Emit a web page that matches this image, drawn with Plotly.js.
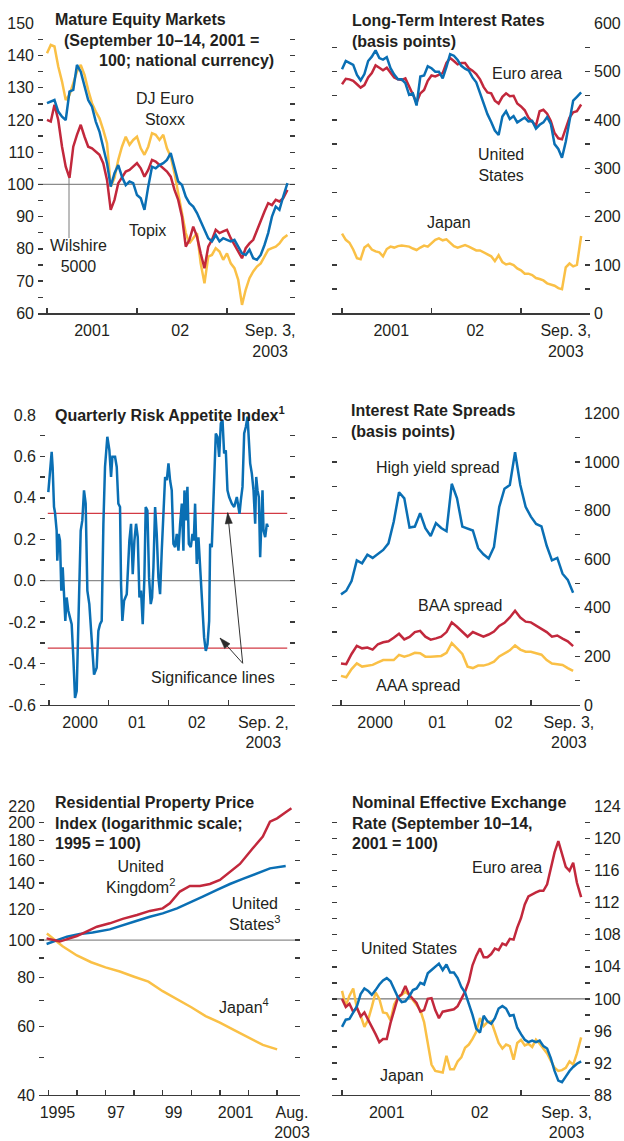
<!DOCTYPE html>
<html><head><meta charset="utf-8">
<script src="https://cdn.plot.ly/plotly-3.0.1.min.js"></script>
<style>html,body{margin:0;padding:0;background:#fff}#chart{width:624px;height:1141px}</style>
</head><body><div id="chart"></div>
<script>
// ---------- DATA ----------
// semi-monthly dates (decimal years), Jan 2001 - Sep 3, 2003
const semiMonthly = [2001.000,2001.042,2001.083,2001.125,2001.167,2001.208,2001.250,2001.292,2001.333,2001.375,2001.417,2001.458,2001.500,2001.542,2001.583,2001.625,2001.667,2001.708,2001.750,2001.792,2001.833,2001.875,2001.917,2001.958,
2002.000,2002.042,2002.083,2002.125,2002.167,2002.208,2002.250,2002.292,2002.333,2002.375,2002.417,2002.458,2002.500,2002.542,2002.583,2002.625,2002.667,2002.708,2002.750,2002.792,2002.833,2002.875,2002.917,2002.958,
2003.000,2003.042,2003.083,2003.125,2003.167,2003.208,2003.250,2003.292,2003.333,2003.375,2003.417,2003.458,2003.500,2003.542,2003.583,2003.625,2003.672];

// Panel 1: Mature equity markets (Sep 10-14, 2001 = 100)
const equityDJEuroStoxx = [140.7,143.3,142.8,136.6,131.9,126.2,127.8,131.4,135.0,137.1,134.0,129.3,125.2,122.6,120.5,116.9,112.8,99.3,102.0,107.6,111.7,114.8,112.3,113.8,114.8,111.2,109.2,111.7,115.9,115.4,113.8,115.4,111.2,108.6,103.5,97.3,91.1,84.9,81.7,83.3,84.9,75.5,69.3,77.6,78.1,80.2,79.2,76.6,78.6,75.5,74.0,70.4,62.6,67.3,70.9,73.0,74.5,75.5,77.6,79.7,80.2,80.7,81.7,83.3,84.3];
const equityWilshire = [120.0,119.5,124.7,120.0,111.7,105.5,102.0,111.7,115.4,118.5,114.8,111.7,111.2,110.2,109.2,106.6,101.4,92.1,95.2,100.4,102.4,104.0,104.5,105.5,106.6,105.0,102.4,104.5,107.6,107.1,106.0,105.0,104.0,102.4,98.3,95.2,90.0,80.7,82.8,86.9,83.8,78.6,74.0,80.7,82.8,85.9,84.9,85.4,85.9,83.3,81.2,79.2,77.1,80.2,81.7,82.8,85.9,89.0,91.6,94.2,93.6,95.2,94.7,95.7,98.3];
const equityTopix = [125.2,125.7,126.2,122.6,121.0,120.0,128.8,129.3,137.1,135.0,130.4,126.2,124.1,119.5,116.4,111.7,106.6,99.3,103.5,106.0,102.4,99.8,100.9,100.4,96.7,95.7,92.1,99.3,105.5,105.0,106.0,106.6,107.6,109.7,105.5,100.9,99.8,96.2,94.2,93.1,91.1,88.5,85.4,83.3,82.3,84.3,82.3,83.3,82.8,82.3,82.8,80.7,78.6,78.1,79.7,77.1,76.6,78.1,81.2,84.9,90.0,93.1,92.1,96.2,100.4];

// Panel 2: Long-term interest rates (basis points)
const ratesUS = [505,522,518,514,493,482,495,522,531,544,528,525,530,507,494,484,484,476,452,455,430,490,492,511,507,500,500,486,510,536,533,524,512,506,502,488,478,455,431,412,396,378,369,407,418,402,408,395,400,405,397,398,382,390,395,406,392,350,340,322,355,400,440,448,457];
const ratesEuro = [474,485,484,481,474,467,472,488,497,513,508,503,508,498,488,484,483,486,468,450,436,455,462,481,492,490,493,497,518,528,522,515,518,518,507,502,495,484,468,457,455,440,434,448,455,449,450,434,428,420,405,397,388,418,421,413,398,373,362,360,384,405,416,418,432];
const ratesJapan = [165,152,146,132,114,112,136,142,132,128,126,118,133,138,136,139,140,139,138,134,131,136,140,138,145,152,155,151,153,145,139,136,139,141,138,134,130,130,126,122,118,108,120,106,101,103,100,93,89,82,82,79,73,71,68,62,60,57,52,50,95,103,97,100,160];

// Panel 3: Quarterly risk appetite index
const riskYears = [1999.989,2000.017,2000.045,2000.061,2000.084,2000.100,2000.128,2000.139,2000.162,2000.184,2000.206,2000.229,2000.251,2000.273,2000.295,2000.323,2000.351,2000.379,2000.407,2000.435,2000.463,2000.491,2000.507,2000.530,2000.557,2000.585,2000.613,2000.641,2000.674,2000.713,2000.753,2000.797,2000.825,2000.853,2000.881,2000.909,2000.936,2000.975,2001.009,2001.037,2001.059,2001.104,2001.132,2001.159,2001.187,2001.204,2001.226,2001.254,2001.299,2001.343,2001.371,2001.399,2001.427,2001.455,2001.483,2001.511,2001.538,2001.566,2001.594,2001.616,2001.644,2001.672,2001.700,2001.722,2001.745,2001.773,2001.800,2001.828,2001.856,2001.884,2001.912,2001.940,2001.968,2001.996,2002.023,2002.051,2002.079,2002.107,2002.135,2002.163,2002.191,2002.219,2002.246,2002.263,2002.285,2002.313,2002.336,2002.369,2002.397,2002.419,2002.441,2002.469,2002.497,2002.525,2002.542,2002.564,2002.592,2002.620,2002.648,2002.676,2002.692,2002.720,2002.737,2002.765,2002.787,2002.815,2002.843,2002.871,2002.899,2002.926,2002.954,2002.982,2003.010,2003.055,2003.094,2003.138,2003.166,2003.183,2003.205,2003.233,2003.261,2003.289,2003.317,2003.333,2003.361,2003.389,2003.417,2003.445,2003.462,2003.484,2003.506,2003.528,2003.550,2003.567,2003.584,2003.612,2003.640,2003.657];
const riskIndex = [0.428,0.549,0.622,0.549,0.356,0.331,0.242,0.097,0.226,0.194,-0.048,0.065,-0.081,-0.194,-0.081,-0.145,-0.178,-0.210,-0.372,-0.566,-0.533,-0.210,0.081,0.242,0.291,0.436,0.372,-0.048,-0.113,-0.307,-0.453,-0.420,-0.242,-0.210,-0.194,0.275,0.549,0.695,0.630,0.501,0.598,0.598,0.549,0.372,0.356,-0.016,-0.194,-0.097,-0.065,0.194,0.275,0.032,0.194,0.275,0.210,-0.081,-0.048,-0.210,0.016,0.356,0.339,0.016,-0.113,-0.081,0.065,0.356,0.226,0.016,-0.065,0.145,0.291,0.501,0.485,0.566,0.485,0.436,0.178,0.162,0.226,0.145,0.275,0.372,0.145,0.436,0.291,0.453,0.178,0.162,0.226,0.194,0.372,0.081,0.210,0.081,-0.032,-0.097,-0.275,-0.339,-0.307,-0.194,0.178,0.162,0.291,0.517,0.711,0.695,0.598,0.760,0.776,0.614,0.630,0.436,0.404,0.372,0.356,0.404,0.356,0.323,0.388,0.453,0.711,0.743,0.792,0.695,0.566,0.517,0.436,0.275,0.501,0.436,0.404,0.113,0.356,0.436,0.242,0.210,0.275,0.259];
const significanceLevel = 0.325;

// Panel 4: Interest rate spreads (basis points), monthly Jan 2000 - Sep 2003
const monthly = [2000.000,2000.083,2000.167,2000.250,2000.333,2000.417,2000.500,2000.583,2000.667,2000.750,2000.833,2000.917,
2001.000,2001.083,2001.167,2001.250,2001.333,2001.417,2001.500,2001.583,2001.667,2001.750,2001.833,2001.917,
2002.000,2002.083,2002.167,2002.250,2002.333,2002.417,2002.500,2002.583,2002.667,2002.750,2002.833,2002.917,
2003.000,2003.083,2003.167,2003.250,2003.333,2003.417,2003.500,2003.583,2003.667];
const spreadHighYield = [455,470,510,595,583,618,605,622,638,665,754,875,850,730,734,789,727,695,748,728,715,910,850,734,725,718,645,620,603,650,815,890,905,1040,905,815,775,745,735,655,595,605,540,515,462];
const spreadBAA = [171,168,210,243,233,236,228,250,258,262,277,293,270,280,300,305,281,269,274,281,300,340,322,301,281,300,290,281,290,302,325,338,360,388,360,343,340,327,312,300,281,286,273,262,242];
const spreadAAA = [120,114,148,171,158,160,165,175,185,185,185,206,199,205,215,213,199,199,199,202,215,255,233,210,158,152,162,162,168,178,200,213,225,245,228,219,219,213,207,185,171,168,165,152,140];

// Panel 5: Residential property price index (1995 = 100)
const propUKYears = [1994.94,1995.40,1996.00,1996.35,1996.70,1997.15,1997.60,1998.10,1998.55,1999.00,1999.25,1999.60,1999.95,2000.30,2000.65,2001.00,2001.35,2001.70,2002.15,2002.50,2002.75,2003.00,2003.30,2003.50];
const propUK = [101.0,99.1,102.4,105.1,108.2,110.4,113.3,116.0,118.8,120.6,124.3,133.2,137.7,137.7,139.3,142.7,149.8,156.8,172.0,184.3,201.4,205.4,212.8,218.0];
const propUSYears = [1994.94,1995.30,1995.65,1996.10,1996.55,1997.15,1997.60,1998.10,1998.55,1999.00,1999.50,1999.95,2000.40,2000.90,2001.35,2001.80,2002.30,2002.75,2003.30];
const propUS = [97.7,100.0,102.0,103.6,104.5,106.5,109.3,112.1,114.8,117.1,120.6,124.7,129.3,134.5,139.3,143.5,148.4,152.8,155.0];
const propJapanYears = [1994.95,1995.50,1996.00,1996.50,1997.00,1997.50,1998.00,1998.50,1999.00,1999.50,2000.00,2000.50,2001.00,2001.50,2002.00,2002.50,2003.00];
const propJapan = [104.0,96.4,91.3,87.7,85.1,83.0,80.5,78.2,73.9,70.6,67.2,63.8,61.4,58.7,56.2,53.8,52.4];

// Panel 6: Nominal effective exchange rate (Sep 10-14, 2001 = 100)
const fxUS = [96.5,97.4,97.5,98.3,99.1,100.6,101.3,101.0,100.5,101.1,101.8,102.3,102.6,102.2,101.2,100.2,99.6,99.7,100.3,101.1,101.3,102.0,101.8,103.2,103.6,104.0,104.4,103.6,104.3,103.3,103.3,102.6,101.5,100.8,99.4,98.0,96.3,95.8,97.9,97.2,96.9,97.6,98.8,99.1,98.8,97.9,98.0,96.4,95.6,94.9,94.6,94.8,94.6,94.8,94.1,93.8,92.6,91.0,89.8,89.6,90.3,91.0,91.5,91.9,92.2];
const fxEuro = [100.0,99.0,99.4,98.4,98.9,97.8,98.3,97.3,96.5,95.6,94.6,95.0,95.0,97.0,98.5,100.2,100.6,101.6,100.5,100.0,99.5,98.4,98.6,100.0,100.1,98.6,97.6,98.4,98.5,98.6,98.7,99.1,100.1,100.9,102.2,104.2,105.4,106.3,105.2,105.2,105.6,106.3,106.1,106.9,106.7,107.5,107.4,108.9,110.1,111.8,112.8,113.0,113.3,113.5,113.5,114.3,116.3,118.3,119.7,118.0,116.5,116.0,117.0,114.5,112.7];
const fxJapan = [101.0,99.1,100.4,101.3,98.8,97.9,96.5,97.4,99.0,100.8,100.0,98.3,98.2,97.3,99.3,100.2,100.5,100.9,100.5,99.9,99.2,98.6,97.1,94.2,91.8,91.0,90.9,90.8,92.9,91.2,91.2,92.2,92.7,93.9,94.3,95.0,95.9,97.6,96.6,97.1,97.2,95.9,94.5,93.8,94.3,94.1,92.4,94.5,94.9,94.2,94.4,94.0,94.9,94.4,93.8,93.2,92.3,91.4,91.0,91.1,91.4,92.2,91.8,93.2,95.2];

// Tick positions / labels
const yearTicks01 = [2001, 2002, 2003];
const yearTicks00 = [2000, 2001, 2002, 2003];
const yearTicks95 = [1995,1996,1997,1998,1999,2000,2001,2002,2003];
const y1Labels = [60,70,80,90,100,110,120,130,140,150];
const y1Minor = [65,75,85,95,105,115,125,135,145];
const y2Labels = [0,100,200,300,400,500,600];
const y2Minor = [50,150,250,350,450,550];
const y3Labels = [-0.6,-0.4,-0.2,0,0.2,0.4,0.6,0.8];
const y3Text = ['-0.6','-0.4','-0.2','0.0','0.2','0.4','0.6','0.8'];
const y3Minor = [-0.5,-0.3,-0.1,0.1,0.3,0.5,0.7];
const y4Labels = [0,200,400,600,800,1000,1200];
const y4Minor = [100,300,500,700,900,1100];
const y5Labels = [40,60,80,100,120,140,160,180,200,220];
const y5Minor = [50,70,90];
const y6Labels = [88,92,96,100,104,108,112,116,120,124];
const y6Minor = [90,94,98,102,106,110,114,118,122];

// ---------- STYLE / LAYOUT ----------
const FONT = 'Liberation Sans, Arial, Helvetica, sans-serif';
const TXT = '#231f20';
const AX = '#3a3a3a';
const BLUE = '#0a6fb4', RED = '#c2283c', YELLOW = '#fac046';
const W = 624, H = 1141;
const px = v => v / W;
const py = v => 1 - v / H;

function xAxis(x0, x1, anchor, range, labelVals, labelText, yearTicks) {
  return {
    domain: [px(x0), px(x1)], anchor: anchor, range: range, type: 'linear',
    showgrid: false, zeroline: false, showline: true, linecolor: AX, linewidth: 1.3,
    tickmode: 'array', tickvals: labelVals, ticktext: labelText, ticks: '',
    tickfont: {family: FONT, size: 16, color: TXT}, ticklabelstandoff: 2,
    minor: {tickmode: 'array', tickvals: yearTicks, ticks: 'inside', ticklen: 5, tickwidth: 1.3, tickcolor: AX, showgrid: false},
    fixedrange: true
  };
}
function yAxis(yTop, yBot, anchor, side, range, vals, text, minorVals, type) {
  return {
    domain: [py(yBot), py(yTop)], anchor: anchor, side: side, range: range, type: type || 'linear',
    showgrid: false, zeroline: false, showline: false,
    tickmode: 'array', tickvals: vals, ticktext: text,
    ticks: 'inside', ticklen: 5, tickwidth: 1.3, tickcolor: AX, mirror: 'ticks',
    minor: {tickmode: 'array', tickvals: minorVals, ticks: 'inside', ticklen: 5, tickwidth: 1.3, tickcolor: AX, showgrid: false},
    tickfont: {family: FONT, size: 16, color: TXT}, ticklabelstandoff: 3,
    fixedrange: true
  };
}

function line(x, y, color, xa, ya) {
  return {x: x, y: y, type: 'scatter', mode: 'lines', xaxis: xa, yaxis: ya,
          line: {color: color, width: 2.5}, hoverinfo: 'skip'};
}

const data = [
  line(semiMonthly, equityDJEuroStoxx, YELLOW, 'x', 'y'),
  line(semiMonthly, equityWilshire, RED, 'x', 'y'),
  line(semiMonthly, equityTopix, BLUE, 'x', 'y'),
  line(semiMonthly, ratesJapan, YELLOW, 'x2', 'y2'),
  line(semiMonthly, ratesEuro, RED, 'x2', 'y2'),
  line(semiMonthly, ratesUS, BLUE, 'x2', 'y2'),
  line(riskYears, riskIndex, BLUE, 'x3', 'y3'),
  line(monthly, spreadAAA, YELLOW, 'x4', 'y4'),
  line(monthly, spreadBAA, RED, 'x4', 'y4'),
  line(monthly, spreadHighYield, BLUE, 'x4', 'y4'),
  line(propJapanYears, propJapan, YELLOW, 'x5', 'y5'),
  line(propUSYears, propUS, BLUE, 'x5', 'y5'),
  line(propUKYears, propUK, RED, 'x5', 'y5'),
  line(semiMonthly, fxJapan, YELLOW, 'x6', 'y6'),
  line(semiMonthly, fxEuro, RED, 'x6', 'y6'),
  line(semiMonthly, fxUS, BLUE, 'x6', 'y6')
];

function ann(text, x, y, opt) {
  return Object.assign({text: text, x: px(x), y: py(y), xref: 'paper', yref: 'paper',
    showarrow: false, xanchor: 'center', yanchor: 'middle', align: 'center',
    font: {family: FONT, size: 16, color: TXT}}, opt || {});
}
function title(text, x, y) {
  return ann('<b>' + text + '</b>', x, y, {xanchor: 'left', align: 'left'});
}

const annotations = [
  // panel 1
  title('Mature Equity Markets', 53, 20),
  title('(September 10–14, 2001 =', 62, 40),
  title('100; national currency)', 97, 60),
  ann('DJ Euro<br>Stoxx', 165, 108.5),
  ann('Topix', 147, 230),
  ann('Wilshire<br>5000', 78, 256),
  // panel 2
  title('Long-Term Interest Rates', 350, 20.7),
  title('(basis points)', 350, 41.7),
  ann('Euro area', 527, 73),
  ann('United<br>States', 501, 165),
  ann('Japan', 449, 222),
  // panel 3
  title('Quarterly Risk Appetite Index<sup>1</sup>', 53, 414),
  ann('Significance lines', 213, 677),
  // panel 4
  title('Interest Rate Spreads', 349, 410.7),
  title('(basis points)', 349, 431.7),
  ann('High yield spread', 438, 467),
  ann('BAA spread', 460, 605),
  ann('AAA spread', 419, 685),
  // panel 5
  title('Residential Property Price', 53, 803),
  title('Index (logarithmic scale;', 53, 823),
  title('1995 = 100)', 53, 843),
  ann('United<br>Kingdom<sup>2</sup>', 140, 877),
  ann('United<br>States<sup>3</sup>', 255, 914),
  ann('Japan<sup>4</sup>', 244, 1006),
  // panel 6
  title('Nominal Effective Exchange', 350, 802),
  title('Rate (September 10–14,', 350, 823),
  title('2001 = 100)', 350, 843),
  ann('Euro area', 507, 867),
  ann('United States', 409, 948),
  ann('Japan', 402, 1075)
];

function hline(xa, ya, y, color, width, x0, x1) {
  const full = (x0 === undefined);
  return {type: 'line', xref: full ? xa + ' domain' : xa, yref: ya,
    x0: full ? 0 : x0, x1: full ? 1 : x1, y0: y, y1: y,
    line: {color: color, width: width}, layer: 'below'};
}
// pointer line (paper coords from pixel positions)
function seg(x0, y0, x1, y1, color, width) {
  return {type: 'line', xref: 'paper', yref: 'paper', x0: px(x0), y0: py(y0), x1: px(x1), y1: py(y1),
    line: {color: color, width: width}};
}
// filled arrowhead at tip (tx,ty) coming from (fx,fy)
function head(fx, fy, tx, ty, len, half) {
  const dx = tx - fx, dy = ty - fy, L = Math.hypot(dx, dy);
  const ux = dx / L, uy = dy / L;
  const bx = tx - len * ux, by = ty - len * uy;
  const nx = -uy, ny = ux;
  const p = [[tx, ty], [bx + half * nx, by + half * ny], [bx - half * nx, by - half * ny]];
  const d = 'M' + p.map(q => px(q[0]) + ',' + py(q[1])).join('L') + 'Z';
  return {type: 'path', xref: 'paper', yref: 'paper', path: d,
    fillcolor: '#2b2b2b', line: {color: '#2b2b2b', width: 0.5}};
}

const arrowTail = [242.7, 663.3];
const shapes = [
  hline('x', 'y', 100, '#8c8c8c', 1.2),
  hline('x3', 'y3', 0, '#8c8c8c', 1.2),
  hline('x3', 'y3', significanceLevel, '#d23a44', 1.3, 1999.98, 2003.98),
  hline('x3', 'y3', -significanceLevel, '#d23a44', 1.3, 1999.98, 2003.98),
  hline('x5', 'y5', 100, '#8c8c8c', 1.2),
  hline('x6', 'y6', 100, '#555555', 1.0),
  // Wilshire leader line
  seg(69, 178, 69, 238, '#7a7a7a', 1),
  // significance arrows
  seg(arrowTail[0], arrowTail[1], 227.7, 512.7, '#333333', 1),
  seg(arrowTail[0], arrowTail[1], 220, 638, '#333333', 1),
  head(arrowTail[0], arrowTail[1], 227.7, 512.7, 11, 3.6),
  head(arrowTail[0], arrowTail[1], 220, 638, 11, 3.6)
];

const layout = {
  width: W, height: H, margin: {l: 0, r: 0, t: 0, b: 0},
  paper_bgcolor: '#ffffff', plot_bgcolor: '#ffffff', showlegend: false,
  font: {family: FONT, size: 16, color: TXT},
  xaxis: xAxis(38, 295, 'y', [2000.9, 2003.756], [2001.5, 2002.48, 2003.48], ['2001', '02', 'Sep. 3,<br>2003'], yearTicks01),
  yaxis: yAxis(23.3, 313.3, 'x', 'left', [60, 150], y1Labels, y1Labels.map(String), y1Minor),
  xaxis2: xAxis(332, 590, 'y2', [2000.888, 2003.771], [2001.55, 2002.49, 2003.5], ['2001', '02', 'Sep. 3,<br>2003'], yearTicks01),
  yaxis2: yAxis(23.3, 313.3, 'x2', 'right', [0, 600], y2Labels, y2Labels.map(String), y2Minor),
  xaxis3: xAxis(40, 295, 'y3', [1999.85, 2004.11], [2000.52, 2001.47, 2002.47, 2003.58], ['2000', '01', '02', 'Sep. 2,<br>2003'], yearTicks00),
  yaxis3: yAxis(415, 705, 'x3', 'left', [-0.6, 0.8], y3Labels, y3Text, y3Minor),
  xaxis4: xAxis(332, 580, 'y4', [1999.858, 2003.776], [2000.54, 2001.52, 2002.57, 2003.6], ['2000', '01', '02', 'Sep. 3,<br>2003'], yearTicks00),
  yaxis4: yAxis(413.3, 705, 'x4', 'right', [0, 1200], y4Labels, y4Labels.map(String), y4Minor),
  xaxis5: xAxis(39, 300, 'y5', [1994.675, 2003.8], [1995.32, 1997.37, 1999.38, 2001.55, 2003.52], ['1995', '97', '99', '2001', 'Aug.<br>2003'], yearTicks95),
  yaxis5: yAxis(806.7, 1095, 'x5', 'left', [Math.log10(40), Math.log10(220)], y5Labels, y5Labels.map(String), y5Minor, 'log'),
  xaxis6: xAxis(332, 590, 'y6', [2000.888, 2003.771], [2001.5, 2002.54, 2003.51], ['2001', '02', 'Sep. 3,<br>2003'], yearTicks01),
  yaxis6: yAxis(806.7, 1095, 'x6', 'right', [88, 124], y6Labels, y6Labels.map(String), y6Minor),
  annotations: annotations,
  shapes: shapes
};

Plotly.newPlot('chart', data, layout, {staticPlot: true, displayModeBar: false});
</script>
</body></html>
